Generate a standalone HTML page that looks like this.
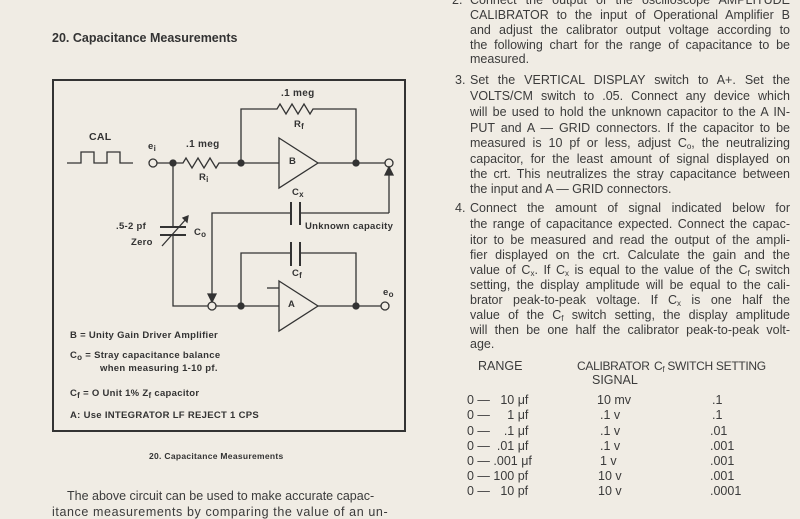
<!DOCTYPE html>
<html><head><meta charset="utf-8"><style>
body{margin:0;width:800px;height:512px;overflow:hidden;background:#f0ece4;font-family:"Liberation Sans",sans-serif;color:#3b3b3b;position:relative}
.l{position:absolute;left:470px;width:320px;font-size:12.5px;line-height:15px;height:15px;white-space:nowrap;text-align:justify;text-align-last:justify}
.l.e{text-align-last:left}
.n{position:absolute;font-size:12.5px}
.t{position:absolute;font-size:12.5px;white-space:nowrap}
sub{font-size:8px;vertical-align:-2px;line-height:0}
svg{position:absolute;left:0;top:0}
.lg{position:absolute;font-size:9.5px;font-weight:bold;white-space:nowrap;letter-spacing:.3px;color:#333}
</style></head><body>
<div class="t" style="left:52px;top:31px;font-weight:bold;font-size:12.5px;color:#333">20. Capacitance Measurements</div>
<svg width="800" height="512" viewBox="0 0 800 512" fill="none" stroke="#333" stroke-width="1.3">
<rect x="53" y="80" width="352" height="351" stroke-width="2"/>
<path d="M67 163H81V152H94V163H107V152H120V163H133"/>
<circle cx="153" cy="163" r="4" fill="#f0ece4"/>
<path d="M157 163H183L186 158L192 168L198 158L204 168L210 158L216 168L219 163H279"/>
<circle cx="173" cy="163" r="3" fill="#333"/>
<circle cx="241" cy="163" r="3" fill="#333"/>
<path d="M241 163V109H277L280 104L286 114L292 104L298 114L304 104L310 114L313 109H356V163"/>
<path d="M279 138L318 163L279 188Z"/>
<path d="M318 163H385"/>
<circle cx="356" cy="163" r="3" fill="#333"/>
<circle cx="389" cy="163" r="4" fill="#f0ece4"/>
<path d="M389 213V171"/><path d="M385 175L389 167L393 175Z" fill="#333"/>
<path d="M389 213H300M291 213H212V298"/>
<path d="M291 202V225M300 202V225" stroke-width="2"/>
<path d="M208 294L212 302L216 294Z" fill="#333"/>
<path d="M173 163V227M173 235V306H208"/>
<path d="M160 227H186M160 235H186" stroke-width="2"/>
<path d="M162 246L187 218"/><path d="M183 218L188 216L187 222Z" fill="#333"/>
<circle cx="212" cy="306" r="4" fill="#f0ece4"/>
<path d="M216 306H279"/>
<circle cx="241" cy="306" r="3" fill="#333"/>
<path d="M241 306V253H291M300 253H356V306"/>
<path d="M291 242V266M300 242V266" stroke-width="2"/>
<path d="M279 281L318 306L279 331Z"/>
<path d="M267 288H279"/>
<path d="M318 306H381"/>
<circle cx="356" cy="306" r="3" fill="#333"/>
<circle cx="385" cy="306" r="4" fill="#f0ece4"/>
</svg>
<div class="lg" style="left:89px;top:131px;font-size:10.5px">CAL</div>
<div class="lg" style="left:148px;top:141px">e<sub>i</sub></div>
<div class="lg" style="left:186px;top:139px;font-size:10px">.1 meg</div>
<div class="lg" style="left:199px;top:172px">R<sub>i</sub></div>
<div class="lg" style="left:281px;top:88px;font-size:10px">.1 meg</div>
<div class="lg" style="left:294px;top:119px">R<sub>f</sub></div>
<div class="lg" style="left:289px;top:156px">B</div>
<div class="lg" style="left:292px;top:187px">C<sub>x</sub></div>
<div class="lg" style="left:305px;top:221px">Unknown capacity</div>
<div class="lg" style="left:116px;top:221px">.5-2 pf</div>
<div class="lg" style="left:131px;top:237px">Zero</div>
<div class="lg" style="left:194px;top:227px">C<sub>o</sub></div>
<div class="lg" style="left:292px;top:268px">C<sub>f</sub></div>
<div class="lg" style="left:288px;top:299px">A</div>
<div class="lg" style="left:383px;top:287px">e<sub>o</sub></div>
<div class="lg" style="left:70px;top:330px">B = Unity Gain Driver Amplifier</div>
<div class="lg" style="left:70px;top:350px">C<sub>o</sub> = Stray capacitance balance</div>
<div class="lg" style="left:100px;top:363px">when measuring 1-10 pf.</div>
<div class="lg" style="left:70px;top:388px">C<sub>f</sub> = O Unit 1% Z<sub>f</sub> capacitor</div>
<div class="lg" style="left:70px;top:410px">A: Use INTEGRATOR LF REJECT 1 CPS</div>
<div class="lg" style="left:149px;top:451px;font-size:8.5px">20. Capacitance Measurements</div>
<div class="t" style="left:67px;top:489px">The above circuit can be used to make accurate capac-</div>
<div class="t" style="left:52px;top:505px;letter-spacing:.6px">itance measurements by comparing the value of an un-</div>

<div class="n" style="left:452px;top:-7px">2.</div>
<div class="l" style="top:-7px">Connect the output of the oscilloscope AMPLITUDE</div>
<div class="l" style="top:8px">CALIBRATOR to the input of Operational Amplifier B</div>
<div class="l" style="top:23px">and adjust the calibrator output voltage according to</div>
<div class="l" style="top:38px">the following chart for the range of capacitance to be</div>
<div class="l e" style="top:52px">measured.</div>
<div class="n" style="left:455px;top:73px">3.</div>
<div class="l" style="top:73px">Set the VERTICAL DISPLAY switch to A+. Set the</div>
<div class="l" style="top:89px">VOLTS/CM switch to .05. Connect any device which</div>
<div class="l" style="top:105px">will be used to hold the unknown capacitor to the A IN-</div>
<div class="l" style="top:121px">PUT and A — GRID connectors. If the capacitor to be</div>
<div class="l" style="top:136px">measured is 10 pf or less, adjust C<sub>o</sub>, the neutralizing</div>
<div class="l" style="top:152px">capacitor, for the least amount of signal displayed on</div>
<div class="l" style="top:167px">the crt. This neutralizes the stray capacitance between</div>
<div class="l e" style="top:182px">the input and A — GRID connectors.</div>
<div class="n" style="left:455px;top:201px">4.</div>
<div class="l" style="top:201px">Connect the amount of signal indicated below for</div>
<div class="l" style="top:217px">the range of capacitance expected. Connect the capac-</div>
<div class="l" style="top:233px">itor to be measured and read the output of the ampli-</div>
<div class="l" style="top:248px">fier displayed on the crt. Calculate the gain and the</div>
<div class="l" style="top:263px">value of C<sub>x</sub>. If C<sub>x</sub> is equal to the value of the C<sub>f</sub> switch</div>
<div class="l" style="top:278px">setting, the display amplitude will be equal to the cali-</div>
<div class="l" style="top:293px">brator peak-to-peak voltage. If C<sub>x</sub> is one half the</div>
<div class="l" style="top:308px">value of the C<sub>f</sub> switch setting, the display amplitude</div>
<div class="l" style="top:323px">will then be one half the calibrator peak-to-peak volt-</div>
<div class="l e" style="top:337px">age.</div>
<div class="t" style="left:478px;top:359px">RANGE</div>
<div class="t" style="left:577px;top:359px;font-size:12px;letter-spacing:-.3px">CALIBRATOR</div>
<div class="t" style="left:592px;top:373px">SIGNAL</div>
<div class="t" style="left:654px;top:359px;font-size:12px;letter-spacing:-.3px">C<sub>f</sub> SWITCH SETTING</div>
<div class="t" style="left:467px;top:393px">0 —&nbsp;&nbsp;&nbsp;10 μf</div>
<div class="t" style="left:467px;top:408px">0 —&nbsp;&nbsp;&nbsp;&nbsp;&nbsp;1 μf</div>
<div class="t" style="left:467px;top:424px">0 —&nbsp;&nbsp;&nbsp;&nbsp;.1 μf</div>
<div class="t" style="left:467px;top:439px">0 —&nbsp;&nbsp;.01 μf</div>
<div class="t" style="left:467px;top:454px">0 — .001 μf</div>
<div class="t" style="left:467px;top:469px">0 — 100 pf</div>
<div class="t" style="left:467px;top:484px">0 —&nbsp;&nbsp;&nbsp;10 pf</div>
<div class="t" style="left:597px;top:393px">10 mv</div>
<div class="t" style="left:600px;top:408px">.1 v</div>
<div class="t" style="left:600px;top:424px">.1 v</div>
<div class="t" style="left:600px;top:439px">.1 v</div>
<div class="t" style="left:600px;top:454px">1 v</div>
<div class="t" style="left:598px;top:469px">10 v</div>
<div class="t" style="left:598px;top:484px">10 v</div>
<div class="t" style="left:712px;top:393px">.1</div>
<div class="t" style="left:712px;top:408px">.1</div>
<div class="t" style="left:710px;top:424px">.01</div>
<div class="t" style="left:710px;top:439px">.001</div>
<div class="t" style="left:710px;top:454px">.001</div>
<div class="t" style="left:710px;top:469px">.001</div>
<div class="t" style="left:710px;top:484px">.0001</div>
</body></html>
